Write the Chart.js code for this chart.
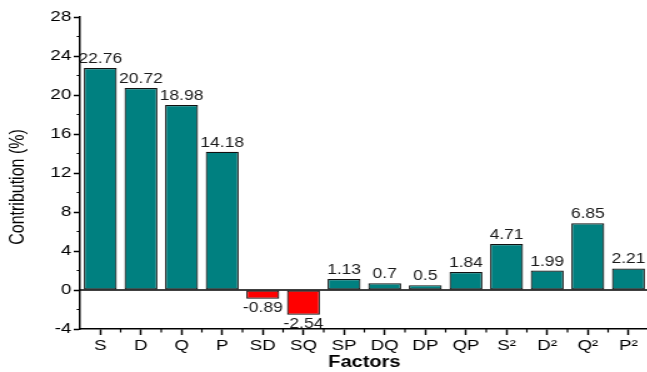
<!DOCTYPE html>
<html>
<head>
<meta charset="utf-8">
<script src="https://cdn.jsdelivr.net/npm/chart.js@4.4.1/dist/chart.umd.min.js"></script>
<style>
  html, body { margin: 0; padding: 0; background: #fff; overflow: hidden; width: 647px; height: 372px; }
  /* the figure is drawn narrow and widened horizontally */
  #wrap { width: 528px; height: 372px; transform: scaleX(1.25); transform-origin: 0 0; }
  canvas { display: block; }
</style>
</head>
<body>
<div id="wrap"><canvas id="c" width="528" height="372"></canvas></div>
<script>
// Factor contributions (%)
const factors = ['S', 'D', 'Q', 'P', 'SD', 'SQ', 'SP', 'DQ', 'DP', 'QP', 'S²', 'D²', 'Q²', 'P²'];
const contributions = [22.76, 20.72, 18.98, 14.18, -0.89, -2.54, 1.13, 0.7, 0.5, 1.84, 4.71, 1.99, 6.85, 2.21];
const yTickValues = [-4, 0, 4, 8, 12, 16, 20, 24, 28];

const FONT = "'Liberation Sans', Arial, Helvetica, sans-serif";
const TEAL = '#008080';
const RED = '#FF0000';

// minor tick marks between the major ones on both axes
const minorTicks = {
  id: 'minorTicks',
  afterDraw(chart) {
    const { ctx, chartArea, scales: { x, y } } = chart;
    ctx.save();
    ctx.strokeStyle = '#000';
    ctx.lineWidth = 1.2;
    ctx.beginPath();
    for (let i = 0; i < yTickValues.length - 1; i++) {
      const v = (yTickValues[i] + yTickValues[i + 1]) / 2;
      const py = y.getPixelForValue(v);
      ctx.moveTo(chartArea.left, py);
      ctx.lineTo(chartArea.left - 2.6, py);
    }
    const n = factors.length;
    const step = (chartArea.right - chartArea.left) / n;
    for (let i = 1; i <= n; i++) {
      const px = chartArea.left + i * step;
      ctx.moveTo(px, chartArea.bottom);
      ctx.lineTo(px, chartArea.bottom + 3.5);
    }
    ctx.stroke();
    ctx.restore();
  }
};

// baseline at zero
const zeroLine = {
  id: 'zeroLine',
  afterDatasetsDraw(chart) {
    const { ctx, chartArea, scales: { y } } = chart;
    const py = y.getPixelForValue(0);
    ctx.save();
    ctx.strokeStyle = '#000';
    ctx.lineWidth = 1.5;
    ctx.beginPath();
    ctx.moveTo(chartArea.left, py);
    ctx.lineTo(chartArea.right, py);
    ctx.stroke();
    ctx.restore();
  }
};

// value printed above (or below) every bar
const valueLabels = {
  id: 'valueLabels',
  afterDatasetsDraw(chart) {
    const { ctx } = chart;
    const meta = chart.getDatasetMeta(0);
    const data = chart.data.datasets[0].data;
    ctx.save();
    ctx.font = '14px ' + FONT;
    ctx.fillStyle = '#1a1a1a';
    ctx.textAlign = 'center';
    meta.data.forEach((bar, i) => {
      const v = data[i];
      if (v >= 0) {
        ctx.textBaseline = 'alphabetic';
        ctx.fillText(String(v), bar.x, bar.y - 5);
      } else {
        ctx.textBaseline = 'top';
        ctx.fillText(String(v), bar.x, bar.y + 2);
      }
    });
    ctx.restore();
  }
};

// vertical axis title
const yTitle = {
  id: 'yTitle',
  afterDraw(chart) {
    const { ctx } = chart;
    ctx.save();
    ctx.translate(14.4, 187);
    ctx.rotate(-Math.PI / 2);
    ctx.font = '16px ' + FONT;
    ctx.fillStyle = '#000';
    ctx.textAlign = 'center';
    ctx.textBaseline = 'middle';
    ctx.fillText('Contribution (%)', 0, 0);
    ctx.restore();
  }
};

new Chart(document.getElementById('c'), {
  type: 'bar',
  data: {
    labels: factors,
    datasets: [{
      data: contributions,
      backgroundColor: contributions.map(v => v < 0 ? RED : TEAL),
      borderColor: '#111',
      borderWidth: 1.2,
      borderSkipped: false,
      barPercentage: 0.81,
      categoryPercentage: 1.0
    }]
  },
  options: {
    responsive: false,
    animation: false,
    devicePixelRatio: 1,
    layout: { padding: { top: 17, right: 9, left: 0, bottom: 0 } },
    plugins: {
      legend: { display: false },
      tooltip: { enabled: false }
    },
    scales: {
      x: {
        type: 'category',
        offset: true,
        afterFit(scale) { scale.height = 43; },
        grid: {
          offset: false,
          drawOnChartArea: false,
          drawTicks: true,
          tickLength: 6,
          tickColor: '#000',
          tickWidth: 1.5
        },
        border: { display: true, color: '#000', width: 1.5 },
        ticks: {
          color: '#000',
          padding: 2,
          maxRotation: 0,
          autoSkip: false,
          font: { family: FONT, size: 15 }
        },
        title: {
          display: true,
          text: 'Factors',
          color: '#000',
          padding: { top: 0, bottom: 0 },
          font: { family: FONT, size: 16, weight: 'bold' }
        }
      },
      y: {
        min: -4,
        max: 28,
        afterFit(scale) { scale.width = 64; },
        afterBuildTicks(scale) { scale.ticks = yTickValues.map(v => ({ value: v })); },
        grid: {
          drawOnChartArea: false,
          drawTicks: true,
          tickLength: 5,
          tickColor: '#000',
          tickWidth: 1.5
        },
        border: { display: true, color: '#000', width: 1.5 },
        ticks: {
          color: '#000',
          padding: 2,
          font: { family: FONT, size: 15 }
        }
      }
    }
  },
  plugins: [minorTicks, zeroLine, valueLabels, yTitle]
});
</script>
</body>
</html>
